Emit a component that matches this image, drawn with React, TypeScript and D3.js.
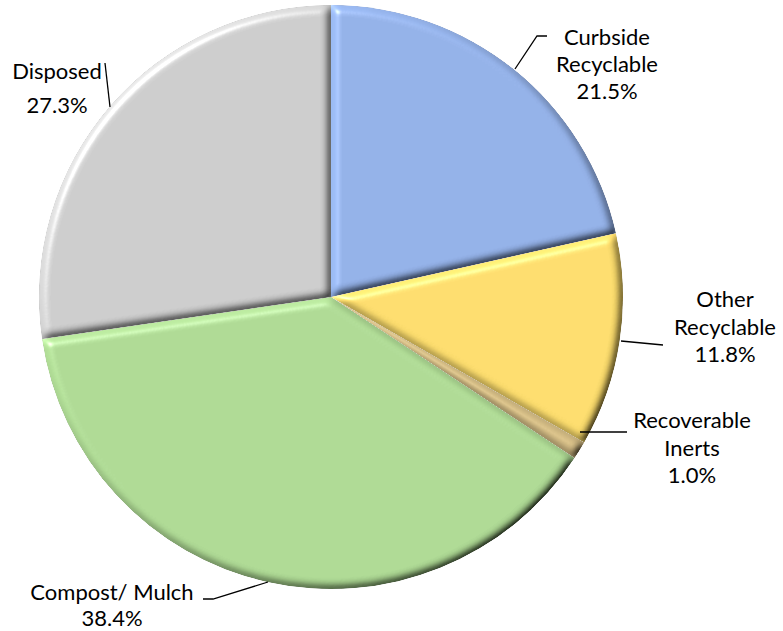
import React from "react";
import * as d3 from "d3";

const categories = ["Curbside Recyclable", "Other Recyclable", "Recoverable Inerts", "Compost/ Mulch", "Disposed"];
const values = [21.5, 11.8, 1.0, 38.4, 27.3];
const colors = ["#95b3ea", "#ffdf6e", "#d8c088", "#b0dc96", "#cfcfcf"];
const labelLines = [
  ["Curbside", "Recyclable", "21.5%"],
  ["Other", "Recyclable", "11.8%"],
  ["Recoverable", "Inerts", "1.0%"],
  ["Compost/ Mulch", "38.4%"],
  ["Disposed", "27.3%"],
];

// layout of labels (x center, first baseline, line gap) and leader path points
const labelLayout = [
  { x: 607, y: 45, gap: 27, leader: [[515, 69], [537, 36], [547, 36]] },
  { x: 725, y: 307, gap: 27.5, leader: [[621, 341], [663, 345]] },
  { x: 692, y: 428, gap: 27.5, leader: [[580, 432], [627, 432]] },
  { x: 112, y: 600, gap: 25.5, leader: [[268, 582], [213, 599], [203, 599]] },
  { x: 57, y: 79, gap: 34, leader: [[110, 107], [105, 63]] },
];

const W = 783;
const H = 631;
const cx = 331;
const cy = 297;
const R = 292;

export default function App() {
  const pie = d3.pie<number>().sort(null).value((d) => d)(values);
  const arc = d3.arc<d3.PieArcDatum<number>>().innerRadius(0).outerRadius(R);
  const line = d3.line();
  return (
    <svg width={W} height={H} style={{ position: "absolute", left: 0, top: 0 }}>
      <defs>
        <filter id="bevel" x="-5%" y="-5%" width="110%" height="110%">
          <feGaussianBlur in="SourceAlpha" stdDeviation="4" result="blur" />
          <feDiffuseLighting in="blur" surfaceScale="6" diffuseConstant="1" lightingColor="#fff" result="diff">
            <feDistantLight azimuth="225" elevation="50" />
          </feDiffuseLighting>
          <feComposite in="SourceGraphic" in2="diff" operator="arithmetic" k1="1.28" k2="0" k3="0" k4="0" result="lit" />
          <feSpecularLighting in="blur" surfaceScale="6" specularConstant="0.7" specularExponent="40" lightingColor="#fff" result="spec">
            <feDistantLight azimuth="225" elevation="40" />
          </feSpecularLighting>
          <feComposite in="spec" in2="SourceAlpha" operator="in" result="specIn" />
          <feComposite in="lit" in2="specIn" operator="arithmetic" k1="0" k2="1" k3="0.7" k4="0" result="out" />
          <feComposite in="out" in2="SourceAlpha" operator="in" />
        </filter>
      </defs>
      <g transform={`translate(${cx},${cy})`}>
        {pie.map((d, i) => (
          <path key={categories[i]} d={arc(d) || ""} fill={colors[i]} filter="url(#bevel)" />
        ))}
      </g>
      {labelLayout.map((l, i) => (
        <path key={"leader" + i} d={line(l.leader as [number, number][]) || ""} fill="none" stroke="#000" strokeWidth={1.3} />
      ))}
      {labelLayout.map((l, i) => (
        <text key={"lab" + i} textAnchor="middle" fontFamily="Lato, 'Open Sans', sans-serif" fontSize={22} fill="#000">
          {labelLines[i].map((t, j) => (
            <tspan key={j} x={l.x} y={l.y + j * l.gap}>{t}</tspan>
          ))}
        </text>
      ))}
    </svg>
  );
}
